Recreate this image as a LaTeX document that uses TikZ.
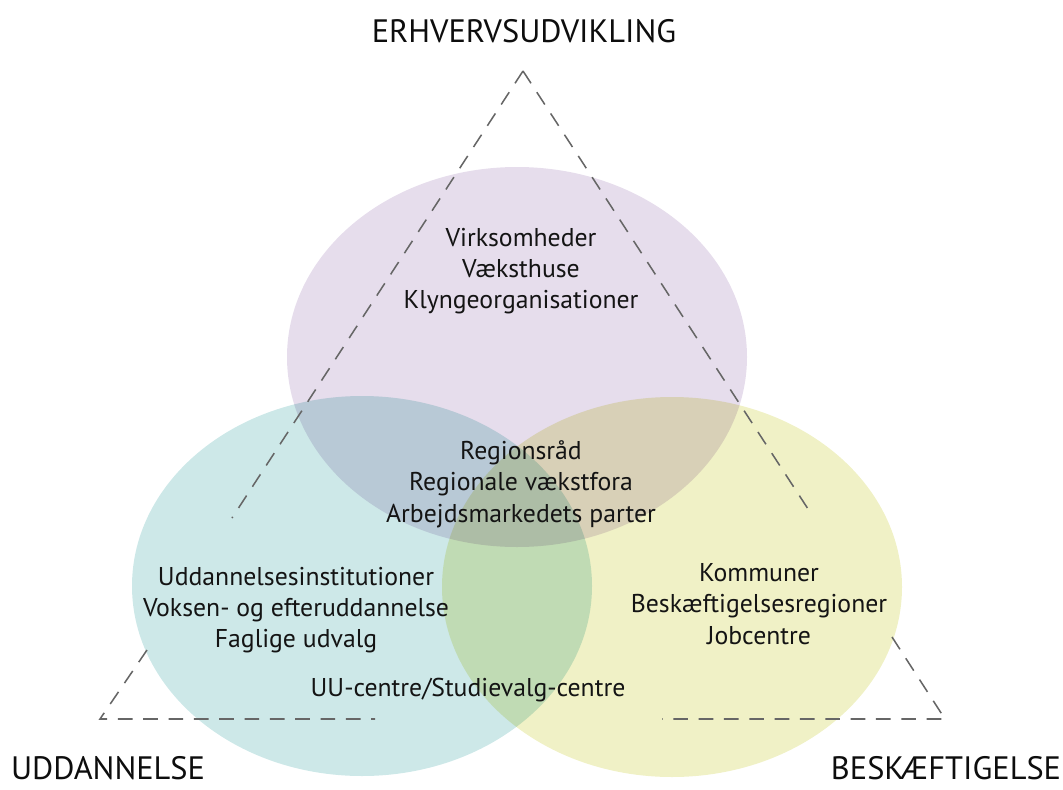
\documentclass[tikz,border=0pt]{standalone}
\usepackage{fontspec}
\setmainfont{PT Sans}
\definecolor{erhvervfarve}{HTML}{E6DDEC}
\definecolor{uddfarve}{HTML}{CDE8E8}
\definecolor{beskfarve}{HTML}{F0F1C6}
\definecolor{stregfarve}{HTML}{666666}

\begin{document}
\begin{tikzpicture}[x=0.75pt,y=-0.75pt,
        felt/.style={blend mode=multiply},
        kant/.style={draw=stregfarve,line width=1.15pt,dash pattern=on 11pt off 8pt},
        tekst/.style={align=center,text=black!92,font=\fontsize{19.3}{23.5}\selectfont},
        hjoerne/.style={text=black!95,font=\fontsize{24.3}{28}\selectfont}]
    \useasboundingbox (0,0) rectangle (1063,789);

    % de tre felter
    \foreach \farve/\cx/\cy in {erhvervfarve/517/357,uddfarve/362/586,beskfarve/672/587}
    {
        \fill[felt,\farve] (\cx,\cy) ellipse [x radius=230,y radius=190];
    }

    % trekanten, brudt af teksten
    \coordinate (top) at (523,71);
    \coordinate (vhj) at (100,719);
    \coordinate (hhj) at (945,719);
    \coordinate (v1) at (232,518);
    \coordinate (v2) at (147,650);
    \coordinate (h1) at (810,512);
    \coordinate (h2) at (892,637);
    \coordinate (b1) at (375,719);
    \coordinate (b2) at (662,719);
    \draw[kant] (top) -- (v1);
    \draw[kant] (v2) -- (vhj) -- (b1);
    \draw[kant] (top) -- (h1);
    \draw[kant] (h2) -- (hhj) -- (b2);

    \node[hjoerne] (erhverv) at (524,31) {ERHVERVSUDVIKLING};
    \node[hjoerne] (udd) at (108,768) {UDDANNELSE};
    \node[hjoerne] (besk) at (946,768) {BESKÆFTIGELSE};

    \node[tekst] (erhvervtekst) at (521,271) {Virksomheder\\Væksthuse\\Klyngeorganisationer};
    \node[tekst] (midte) at (521,484) {Regionsråd\\Regionale vækstfora\\Arbejdsmarkedets parter};
    \node[tekst] (uddtekst) at (296,610) {Uddannelsesinstitutioner\\Voksen- og efteruddannelse\\Faglige udvalg};
    \node[tekst] (besktekst) at (759,604) {Kommuner\\Beskæftigelsesregioner\\Jobcentre};
    \node[tekst] (uu) at (468,690) {UU-centre/Studievalg-centre};
\end{tikzpicture}
\end{document}
